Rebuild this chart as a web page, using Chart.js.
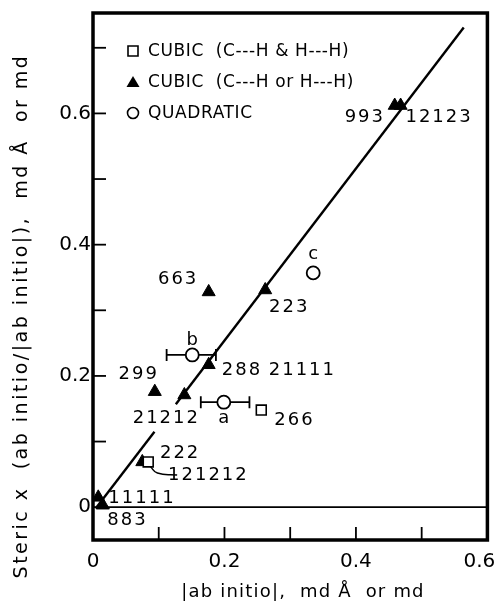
<!DOCTYPE html>
<html>
<head>
<meta charset="utf-8">
<script src="https://cdn.jsdelivr.net/npm/chart.js@4.4.1/dist/chart.umd.min.js"></script>
<style>
html,body{margin:0;padding:0;background:#fff;}
#wrap{width:496px;height:606px;position:relative;}
</style>
</head>
<body>
<div id="wrap"><canvas id="c" width="496" height="606"></canvas></div>
<script>
// ---- data ----
const cubicBothX = [0.084, 0.256];
const cubicBothY = [0.069, 0.148];

const cubicOneX = [0.459, 0.468, 0.176, 0.262, 0.176, 0.094, 0.139, 0.075, 0.008, 0.015];
const cubicOneY = [0.612, 0.612, 0.328, 0.331, 0.217, 0.176, 0.171, 0.069, 0.015, 0.003];

const quadX = [0.199, 0.151, 0.335];
const quadY = [0.160, 0.232, 0.357];
const quadErrLow  = [0.164, 0.112, null];
const quadErrHigh = [0.238, 0.187, null];

// fitted line (drawn in two pieces, broken around the "21212" label)
const fitX1 = [0.004, 0.0935];
const fitY1 = [-0.002, 0.115];
const fitX2 = [0.126, 0.564];
const fitY2 = [0.157, 0.731];

// leader from "121212" to its square
const leaderX = [0.128, 0.098, 0.087];
const leaderY = [0.049, 0.052, 0.062];

// point annotations: text and anchor in data units
const labelText = ["993","12123","663","223","c","b","288","21111","299","21212","a","266","222","121212","11111","883"];
const labelX    = [0.412,0.525,0.128,0.297,0.335,0.151,0.225,0.317,0.068,0.110,0.199,0.305,0.131,0.174,0.073,0.051];
const labelY    = [0.594,0.594,0.347,0.304,0.385,0.255,0.209,0.209,0.202,0.136,0.136,0.133,0.082,0.049,0.014,-0.020];

const xTickValues = [0,0.1,0.2,0.3,0.4,0.5,0.6];
const xTickLabels = {"0":"0","0.2":"0.2","0.4":"0.4","0.6":"0.6"};
const yTickValues = [0,0.1,0.2,0.3,0.4,0.5,0.6,0.7];
const yTickLabels = {"0":"0","0.2":"0.2","0.4":"0.4","0.6":"0.6"};

const legendItems = ["CUBIC  (C---H & H---H)", "CUBIC  (C---H or H---H)", "QUADRATIC"];

const xTitle = "|ab initio|,  md Å  or md";
const yTitle = "Steric x  (ab initio/|ab initio|),  md Å  or md";

// ---- build ----
const FONT = "'DejaVu Sans', sans-serif";
const pts = (xs, ys) => xs.map((x, i) => ({x: x, y: ys[i]}));
const errSets = [];
quadErrLow.forEach((lo, i) => {
  if (lo === null) return;
  errSets.push({
    type: 'line', data: [{x: lo, y: quadY[i]}, {x: quadErrHigh[i], y: quadY[i]}],
    borderColor: '#000', borderWidth: 1.8, pointStyle: 'line', rotation: 90,
    pointRadius: 6, pointBorderWidth: 1.8, pointBorderColor: '#000', showLine: true, order: 3
  });
});

const lineDs = (xs, ys, w) => ({
  type: 'line', data: pts(xs, ys), borderColor: '#000', borderWidth: w,
  pointRadius: 0, showLine: true, fill: false, order: 4
});

const tickLabel = (map) => function (v) {
  const k = String(Math.round(v * 10) / 10);
  return map[k] !== undefined ? map[k] : '';
};

const framePlugin = {
  id: 'frame',
  beforeDraw(chart) {
    // keep the last x tick label inside the canvas, as in the reference
    const x = chart.scales.x;
    const items = x.getLabelItems(chart.chartArea);
    if (items && items.length) {
      const last = items[items.length - 1];
      if (last.options && last.options.translation) last.options.translation[0] -= 8;
    }
  },
  beforeDatasetsDraw(chart) {
    const {ctx, chartArea: a, scales: {x, y}} = chart;
    ctx.save();
    ctx.strokeStyle = '#000';
    ctx.lineWidth = 1.8;
    const y0 = y.getPixelForValue(0);
    ctx.beginPath(); ctx.moveTo(a.left, y0); ctx.lineTo(a.right, y0); ctx.stroke();
    xTickValues.forEach(v => {
      if (v <= x.min || v >= x.max) return;
      const px = x.getPixelForValue(v);
      ctx.beginPath(); ctx.moveTo(px, a.bottom); ctx.lineTo(px, a.bottom - 13); ctx.stroke();
    });
    yTickValues.forEach(v => {
      if (v <= y.min || v >= y.max || v === 0) return;
      const py = y.getPixelForValue(v);
      ctx.beginPath(); ctx.moveTo(a.left, py); ctx.lineTo(a.left + 13, py); ctx.stroke();
    });
    ctx.restore();
  },
  afterDatasetsDraw(chart) {
    const {ctx, chartArea: a, scales: {x, y}} = chart;
    ctx.save();
    ctx.strokeStyle = '#000';
    ctx.lineWidth = 3.5;
    ctx.strokeRect(a.left, a.top, a.right - a.left, a.bottom - a.top);
    ctx.fillStyle = '#000';
    ctx.font = "18px " + FONT;
    ctx.letterSpacing = "2px";
    ctx.textAlign = 'center';
    ctx.textBaseline = 'middle';
    labelText.forEach((t, i) => {
      ctx.fillText(t, x.getPixelForValue(labelX[i]) + 1, y.getPixelForValue(labelY[i]));
    });
    // legend
    const lx = a.left + 40, ly = a.top + 38, gap = 31;
    ctx.textAlign = 'left';
    ctx.font = "17px " + FONT;
    ctx.letterSpacing = "0.6px";
    ctx.lineWidth = 1.6;
    legendItems.forEach((t, i) => {
      const cy = ly + i * gap;
      ctx.beginPath();
      if (i === 0) { ctx.rect(lx - 5, cy - 5, 10, 10); ctx.stroke(); }
      else if (i === 1) { ctx.moveTo(lx, cy - 6); ctx.lineTo(lx + 6.5, cy + 5); ctx.lineTo(lx - 6.5, cy + 5); ctx.closePath(); ctx.fill(); }
      else { ctx.arc(lx, cy, 5.5, 0, Math.PI * 2); ctx.stroke(); }
      ctx.fillText(t, lx + 15, cy + 1);
    });
    ctx.restore();
  },
  afterDraw(chart) {
    const {ctx, chartArea: a} = chart;
    ctx.save();
    ctx.fillStyle = '#000';
    ctx.textAlign = 'center';
    ctx.textBaseline = 'middle';
    // x title
    ctx.font = "18px " + FONT;
    ctx.letterSpacing = "1.2px";
    ctx.fillText(xTitle, a.left + 210, chart.height - 14);
    // y title
    ctx.translate(22, a.top + 303);
    ctx.rotate(-Math.PI / 2);
    ctx.font = "19px " + FONT;
    ctx.letterSpacing = "2.5px";
    ctx.fillText(yTitle, 0, 0);
    ctx.restore();
  }
};

new Chart(document.getElementById('c'), {
  type: 'scatter',
  data: {
    datasets: [
      lineDs(fitX1, fitY1, 2.4),
      lineDs(fitX2, fitY2, 2.4),
      Object.assign(lineDs(leaderX, leaderY, 1.5), {tension: 0.5}),
      ...errSets,
      { label: legendItems[1], data: pts(cubicOneX, cubicOneY), pointStyle: 'triangle',
        pointRadius: 7.5, backgroundColor: '#000', borderColor: '#000', borderWidth: 1, order: 2 },
      { label: legendItems[0], data: pts(cubicBothX, cubicBothY), pointStyle: 'rect',
        pointRadius: 7, backgroundColor: '#fff', borderColor: '#000', borderWidth: 1.6, order: 1 },
      { label: legendItems[2], data: pts(quadX, quadY), pointStyle: 'circle',
        pointRadius: 6.5, backgroundColor: '#fff', borderColor: '#000', borderWidth: 1.8, order: 1 }
    ]
  },
  options: {
    responsive: false,
    animation: false,
    events: [],
    layout: {padding: {left: 0, right: 5, top: 13, bottom: 0}},
    plugins: {legend: {display: false}, tooltip: {enabled: false}},
    scales: {
      x: {
        type: 'linear', min: 0, max: 0.6,
        afterBuildTicks: s => { s.ticks = xTickValues.map(v => ({value: v})); },
        afterFit: s => { s.height = 66; s.paddingLeft = 0; s.paddingRight = 0; },
        grid: {display: false, drawTicks: false}, border: {display: false},
        ticks: {callback: tickLabel(xTickLabels), color: '#000', font: {family: FONT, size: 20}, padding: 10, maxRotation: 0, autoSkip: false},
        title: {display: false}
      },
      y: {
        type: 'linear', min: -0.05, max: 0.753,
        afterBuildTicks: s => { s.ticks = yTickValues.map(v => ({value: v})); },
        afterFit: s => { s.width = 93; s.paddingTop = 0; s.paddingBottom = 0; },
        grid: {display: false, drawTicks: false}, border: {display: false},
        ticks: {callback: tickLabel(yTickLabels), color: '#000', font: {family: FONT, size: 20}, padding: 2, autoSkip: false},
        title: {display: false}
      }
    }
  },
  plugins: [framePlugin]
});
</script>
</body>
</html>
